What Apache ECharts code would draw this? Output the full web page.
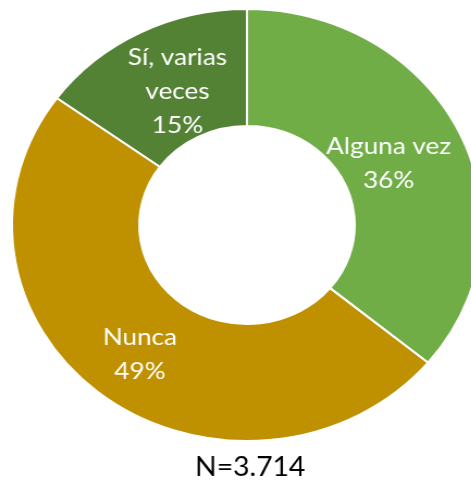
<!DOCTYPE html>
<html>
<head>
<meta charset="utf-8">
<script src="https://cdn.jsdelivr.net/npm/echarts@6/dist/echarts.min.js"></script>
<style>
  html, body { margin: 0; padding: 0; background: #ffffff; overflow: hidden; }
  #wrap { width: 471px; height: 482px; overflow: hidden; position: relative; }
  /* the ring is drawn slightly wider than tall */
  #chart { width: 433px; height: 482px; transform: scaleX(1.088); transform-origin: 0 0; }
</style>
</head>
<body>
<div id="wrap"><div id="chart"></div></div>
<script>
const categories = ['Alguna vez', 'Nunca', 'Sí, varias veces'];
const labelNames = ['Alguna vez', 'Nunca', 'Sí, varias\nveces'];
const values = [36, 49, 15];
const colors = ['#70AD47', '#BF9000', '#548235'];
const footnote = 'N=3.714';

// small nudges of each label inside its slice
const labelShift = [[-15, 7], [0, 2], [9, 9]];

const chart = echarts.init(document.getElementById('chart'), null, { renderer: 'canvas' });

const data = categories.map((c, i) => ({
  name: c,
  value: values[i],
  itemStyle: { color: colors[i] },
  label: { formatter: labelNames[i] + '\n' + values[i] + '%' }
}));

chart.setOption({
  animation: false,
  title: {
    text: footnote,
    left: 225,
    textAlign: 'center',
    top: 450,
    textStyle: { fontFamily: 'Lato', fontSize: 26, fontWeight: 'normal', color: '#000000' }
  },
  series: [{
    type: 'pie',
    center: [227, 225],
    radius: [99, 216],
    startAngle: 90,
    clockwise: true,
    avoidLabelOverlap: false,
    itemStyle: { borderColor: '#ffffff', borderWidth: 2 },
    label: {
      show: true,
      position: 'inside',
      color: '#ffffff',
      fontFamily: 'Lato',
      fontSize: 24,
      lineHeight: 34,
      align: 'center'
    },
    labelLayout: function (p) {
      const s = labelShift[p.dataIndex];
      return { dx: s[0], dy: s[1] };
    },
    labelLine: { show: false },
    emphasis: { disabled: true },
    data: data
  }]
});
</script>
</body>
</html>
